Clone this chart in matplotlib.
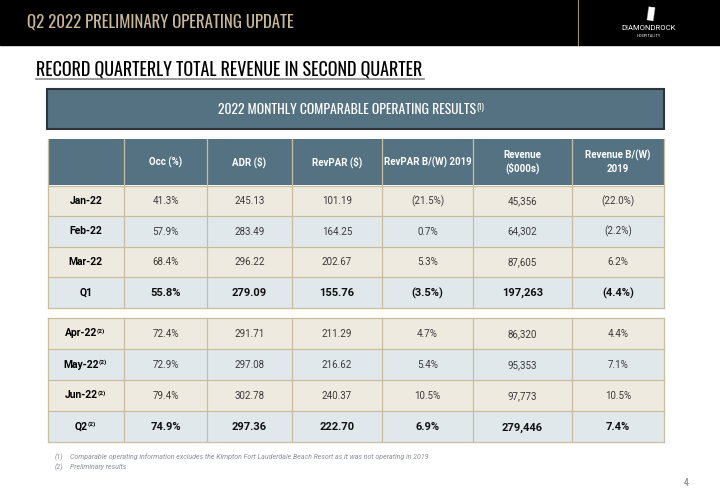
import matplotlib
matplotlib.use("Agg")
import matplotlib.pyplot as plt
from matplotlib.patches import Rectangle
from matplotlib import font_manager

# Table data
columns = ["Occ (%)", "ADR ($)", "RevPAR ($)", "RevPAR B/(W) 2019", "Revenue\n($000s)", "Revenue B/(W)\n2019"]
q1_rows = ["Jan-22", "Feb-22", "Mar-22", "Q1"]
q2_rows = ["Apr-22", "May-22", "Jun-22", "Q2"]
occ = [41.3, 57.9, 68.4, 55.8, 72.4, 72.9, 79.4, 74.9]
adr = [245.13, 283.49, 296.22, 279.09, 291.71, 297.08, 302.78, 297.36]
revpar = [101.19, 164.25, 202.67, 155.76, 211.29, 216.62, 240.37, 222.70]
revpar_bw = [-21.5, 0.7, 5.3, -3.5, 4.7, 5.4, 10.5, 6.9]
revenue = [45356, 64302, 87605, 197263, 86320, 95353, 97773, 279446]
revenue_bw = [-22.0, -2.2, 6.2, -4.4, 4.4, 7.1, 10.5, 7.4]

footnotes = ["Comparable operating information excludes the Kimpton Fort Lauderdale Beach Resort as it was not operating in 2019",
             "Preliminary results"]

# pick a narrow face for the headline style if one is installed
NARROW = ["Roboto", "DejaVu Sans"]
STRETCH = "normal"
_fonts = font_manager.fontManager.ttflist
_names = {f.name for f in _fonts}
for cand in ["Oswald", "Roboto Condensed", "Liberation Sans Narrow", "Open Sans Condensed", "Noto Sans Condensed"]:
    if cand in _names:
        NARROW = [cand, "DejaVu Sans"]
        break
else:
    for fam in ["Roboto", "Noto Sans", "Open Sans", "DejaVu Sans"]:
        cond = [f for f in _fonts if f.name == fam and str(f.stretch) in ("condensed", "extra-condensed", "semi-condensed")]
        if cond:
            NARROW = [fam, "DejaVu Sans"]
            STRETCH = str(cond[0].stretch)
            break

BODY = ["Roboto", "DejaVu Sans"]
HEAD_BLUE = "#557282"
BEIGE = "#efeae0"
LIGHT = "#e1e8ec"
GRID = "#c9bd9f"
TAN = "#c8b795"


def pct(v):
    return f"({abs(v):.1f}%)" if v < 0 else f"{v:.1f}%"


fig = plt.figure(figsize=(7.2, 5.04), dpi=100)
ax = fig.add_axes([0, 0, 1, 1])
ax.set_xlim(0, 720)
ax.set_ylim(504, 0)
ax.axis("off")
R = fig.canvas.get_renderer()


def fit_text(x, y, s, width, ha="left", **kw):
    # headline text sized so it spans the same width as on the slide
    t = ax.text(x, y, s, ha=ha, va="center", fontsize=10, family=NARROW, fontstretch=STRETCH, **kw)
    w = t.get_window_extent(R).width
    t.set_fontsize(10 * width / w)
    return t


def add_sup(t, sup, size, dx=0.3, **kw):
    bb = t.get_window_extent(R)
    xd, yd = ax.transData.inverted().transform((bb.x1, bb.y1))
    ax.text(xd + dx, yd - 0.5, sup, ha="left", va="top", fontsize=size, **kw)


def sup_label(x, y, s, sup, size, **kw):
    # centre label + superscript as one group
    t = ax.text(x, y, s, ha="left", va="center", fontsize=size, **kw)
    s2 = ax.text(0, 0, sup, fontsize=size * 0.62, **kw)
    w = t.get_window_extent(R).width + s2.get_window_extent(R).width
    s2.remove()
    t.set_x(x - w / 2)
    add_sup(t, sup, size * 0.62, dx=-0.9, **kw)


# top band
ax.add_patch(Rectangle((0, 0), 720, 45, color="black"))
fit_text(27, 22, "Q2 2022 PRELIMINARY OPERATING UPDATE", 269, color=TAN)
ax.plot([578, 578], [0, 45], color="#9c8f73", lw=0.8)
ax.text(650, 14, "\u25AE", color="white", fontsize=13, ha="center", va="center", rotation=-8)
ax.text(649, 28, "DIAMONDROCK", color="white", fontsize=5.5, ha="center", va="center", family=BODY)
ax.text(649, 36, "HOSPITALITY", color="white", fontsize=2.8, ha="center", va="center", family=BODY)

# subtitle
fit_text(36, 69, "RECORD QUARTERLY TOTAL REVENUE IN SECOND QUARTER", 387, color="black")
ax.plot([36, 424], [78.5, 78.5], color="#8a8a8a", lw=1.2)

# banner
ax.add_patch(Rectangle((47, 89), 617, 40, facecolor=HEAD_BLUE, edgecolor="#2e3539", lw=1.5))
bt = fit_text(218, 109, "2022 MONTHLY COMPARABLE OPERATING RESULTS", 260, color="white")
add_sup(bt, "(1)", bt.get_fontsize() * 0.6, dx=0.5, color="white", family=NARROW)

col_x = [47.5, 124, 207, 292, 382, 473, 572, 664]

# header row
ax.add_patch(Rectangle((col_x[0], 139), col_x[-1] - col_x[0], 46, facecolor=HEAD_BLUE, edgecolor="none"))
for i, name in enumerate(columns):
    cx = (col_x[i + 1] + col_x[i + 2]) / 2
    ax.text(cx, 162, name, color="white", fontsize=7, fontweight="bold", family=BODY,
            ha="center", va="center", linespacing=1.35)
for xv in col_x:
    ax.plot([xv, xv], [139, 185], color=GRID, lw=0.9)


def draw_block(top, h, labels, start, sup):
    for r, lab in enumerate(labels):
        y0 = top + r * h
        k = start + r
        total = lab.startswith("Q")
        fc = LIGHT if r % 2 == 1 else BEIGE
        ax.add_patch(Rectangle((col_x[0], y0), col_x[-1] - col_x[0], h, facecolor=fc, edgecolor="none"))
        cy = y0 + h / 2
        lx = (col_x[0] + col_x[1]) / 2
        if sup:
            sup_label(lx, cy, lab, "(2)", 7.5, color="black", fontweight="bold", family=BODY)
        else:
            ax.text(lx, cy, lab, fontsize=7.5, fontweight="bold", family=BODY, ha="center", va="center")
        vals = [f"{occ[k]:.1f}%", f"{adr[k]:.2f}", f"{revpar[k]:.2f}", pct(revpar_bw[k]),
                f"{revenue[k]:,}", pct(revenue_bw[k])]
        fs = 8 if total else 7
        for i, v in enumerate(vals):
            cx = (col_x[i + 1] + col_x[i + 2]) / 2
            ax.text(cx, cy + fs * 0.49, v, fontsize=fs,
                    fontweight="bold" if total else "normal",
                    color="#111111" if total else "#3a3a3a", family=BODY,
                    ha="center", va="baseline")
    bottom = top + h * len(labels)
    for r in range(len(labels) + 1):
        ax.plot([col_x[0], col_x[-1]], [top + r * h] * 2, color=GRID, lw=0.9)
    for xv in col_x:
        ax.plot([xv, xv], [top, bottom], color=GRID, lw=0.9)


draw_block(185.5, 30.5, q1_rows, 0, False)
draw_block(318, 31, q2_rows, 4, True)

# footnotes
for j, note in enumerate(footnotes):
    yy = 457 + j * 10.5
    ax.text(55, yy, f"({j + 1})", fontsize=5, style="italic", color="#8a8f96", family=BODY, va="center")
    ax.text(70, yy, note, fontsize=5, style="italic", color="#8a8f96", family=BODY, va="center")

ax.text(686, 483, "4", fontsize=7, color="#8a8a8a", family=NARROW, fontstretch=STRETCH,
        ha="center", va="center")

fig.savefig("out.png", dpi=100)
